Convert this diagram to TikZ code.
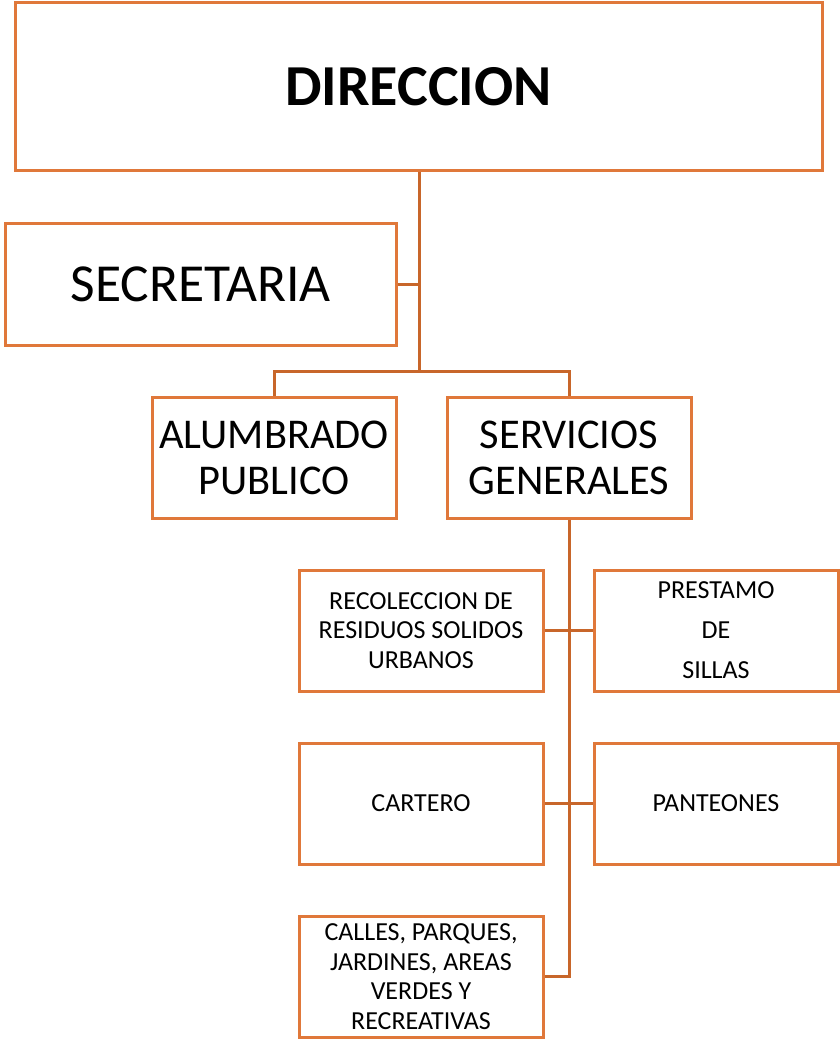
\documentclass[tikz,border=0pt]{standalone}
\usepackage{fontspec}
\setmainfont{Carlito}
\definecolor{boxc}{HTML}{E0783A}
\definecolor{linec}{HTML}{C8662A}
\begin{document}
\begin{tikzpicture}[x=1pt,y=-1pt,
  box/.style={draw=boxc,line width=3pt,inner sep=0pt,align=center},
  small/.style={font=\fontsize{26}{29.5}\selectfont},
  conn/.style={draw=linec,line width=3pt}]
\useasboundingbox (0,0) rectangle (839,1040);
\node[box,minimum width=807pt,minimum height=168pt,font=\fontsize{58}{62}\selectfont\bfseries] (dir) at (418.5,87) {DIRECCION};
\node[box,minimum width=391pt,minimum height=121pt,font=\fontsize{53.5}{56}\selectfont] (sec) at (200.5,284.5) {SECRETARIA};
\node[box,minimum width=244pt,minimum height=121pt,font=\fontsize{42.4}{46}\selectfont] (alu) at (274,457.5) {ALUMBRADO\\PUBLICO};
\node[box,minimum width=244pt,minimum height=121pt,font=\fontsize{42.4}{46}\selectfont] (ser) at (569,457.5) {SERVICIOS\\GENERALES};
\node[box,minimum width=244pt,minimum height=121pt,small] (rec) at (421,630.5) {RECOLECCION DE\\RESIDUOS SOLIDOS\\URBANOS};
\node[box,minimum width=244pt,minimum height=121pt,font=\fontsize{26}{40}\selectfont] (pre) at (716,630.5) {PRESTAMO\\DE\\SILLAS};
\node[box,minimum width=244pt,minimum height=121pt,small] (car) at (421,803.5) {CARTERO};
\node[box,minimum width=244pt,minimum height=121pt,small] (pan) at (716,803.5) {PANTEONES};
\node[box,minimum width=244pt,minimum height=121pt,small] (cal) at (421,976.5) {CALLES, PARQUES,\\JARDINES, AREAS\\VERDES Y\\RECREATIVAS};
\coordinate (j1) at (419,371);
\coordinate (j2) at (569,976.5);
\draw[conn] (dir.south -| j1) -- (j1);
\draw[conn] (sec.east) -- (sec.east -| j1);
\draw[conn] (alu.north) |- (j1) -| (ser.north);
\draw[conn] (ser.south) -- (j2) -- (cal.east);
\draw[conn] (rec.east) -- (pre.west);
\draw[conn] (car.east) -- (pan.west);
\end{tikzpicture}
\end{document}
